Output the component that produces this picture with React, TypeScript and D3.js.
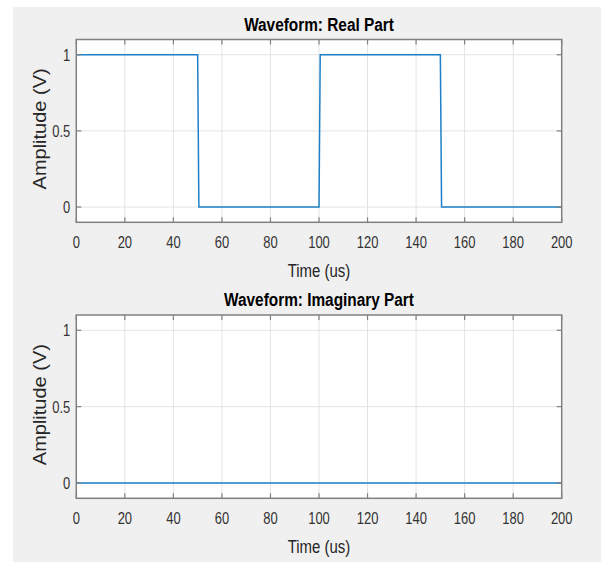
import React from 'react'
import * as d3 from 'd3'

// waveform samples
const timeReal = [0, 50, 50.5, 100, 100.5, 150, 150.5, 200]
const ampReal = [1, 1, 0, 0, 1, 1, 0, 0]
const timeImag = [0, 200]
const ampImag = [0, 0]

const xTicks = [0, 20, 40, 60, 80, 100, 120, 140, 160, 180, 200]
const yTicks = [0, 0.5, 1]
const yTickLabels = ['0', '0.5', '1']
const titles = ['Waveform: Real Part', 'Waveform: Imaginary Part']
const xLabel = 'Time (us)'
const yLabel = 'Amplitude (V)'

const W = 601
const H = 562
const FONT = '"Liberation Sans", Arial, Helvetica, sans-serif'
const SQ = 0.81 // horizontal squeeze of the text in the picture

const x = d3.scaleLinear().domain([0, 200]).range([76.3, 561.7])

function Panel({ top, bottom, title, times, amps }) {
  const y = d3.scaleLinear().domain([-0.1, 1.1]).range([bottom, top])
  const [x0, x1] = x.range()
  const pts = times.map((t, i) => [t, amps[i]])
  const line = d3.line().x(d => x(d[0])).y(d => y(d[1]))
  const tl = 5
  const axisColor = '#808080'
  return (
    <g>
      <rect x={x0} y={top} width={x1 - x0} height={bottom - top} fill="#fff" />
      {/* grid */}
      {xTicks.map(t => (
        <line key={'gx' + t} x1={x(t)} x2={x(t)} y1={top} y2={bottom} stroke="#e3e3e3" strokeWidth={1} />
      ))}
      {yTicks.map(t => (
        <line key={'gy' + t} x1={x0} x2={x1} y1={y(t)} y2={y(t)} stroke="#e3e3e3" strokeWidth={1} />
      ))}
      <path d={line(pts)} fill="none" stroke="#1f80c8" strokeWidth={1.5} />
      {/* ticks, inward on all sides */}
      {xTicks.map(t => (
        <g key={'tx' + t}>
          <line x1={x(t)} x2={x(t)} y1={bottom} y2={bottom - tl} stroke={axisColor} strokeWidth={1.2} />
          <line x1={x(t)} x2={x(t)} y1={top} y2={top + tl} stroke={axisColor} strokeWidth={1.2} />
          <text transform={`translate(${x(t)},${bottom + 26}) scale(${SQ},1)`} textAnchor="middle"
            fontSize={16} fill="#333">{t}</text>
        </g>
      ))}
      {yTicks.map((t, i) => (
        <g key={'ty' + t}>
          <line x1={x0} x2={x0 + tl} y1={y(t)} y2={y(t)} stroke={axisColor} strokeWidth={1.2} />
          <line x1={x1} x2={x1 - tl} y1={y(t)} y2={y(t)} stroke={axisColor} strokeWidth={1.2} />
          <text transform={`translate(${x0 - 6},${y(t) + 6}) scale(${SQ},1)`} textAnchor="end"
            fontSize={16} fill="#333">{yTickLabels[i]}</text>
        </g>
      ))}
      <rect x={x0} y={top} width={x1 - x0} height={bottom - top} fill="none" stroke={axisColor} strokeWidth={1.5} />
      <text transform={`translate(${(x0 + x1) / 2},${bottom + 55}) scale(${SQ},1)`} textAnchor="middle"
        fontSize={18.5} fill="#262626">{xLabel}</text>
      <text transform={`translate(45.5,${(top + bottom) / 2 - 2}) rotate(-90) scale(1,0.9)`} textAnchor="middle"
        fontSize={20} fill="#262626">{yLabel}</text>
      <text transform={`translate(${(x0 + x1) / 2},${top - 9}) scale(${SQ},1)`} textAnchor="middle"
        fontSize={19} fontWeight="bold" fill="#000">{title}</text>
    </g>
  )
}

export default function App() {
  return (
    <svg width={W} height={H} style={{ position: 'absolute', left: 0, top: 0, fontFamily: FONT }}>
      <rect x={0} y={0} width={W} height={H} fill="#fff" />
      <rect x={13} y={7} width={W - 13} height={H - 7} fill="#f0f0f0" />
      <Panel top={39.5} bottom={222.3} title={titles[0]} times={timeReal} amps={ampReal} />
      <Panel top={315} bottom={498.3} title={titles[1]} times={timeImag} amps={ampImag} />
    </svg>
  )
}
